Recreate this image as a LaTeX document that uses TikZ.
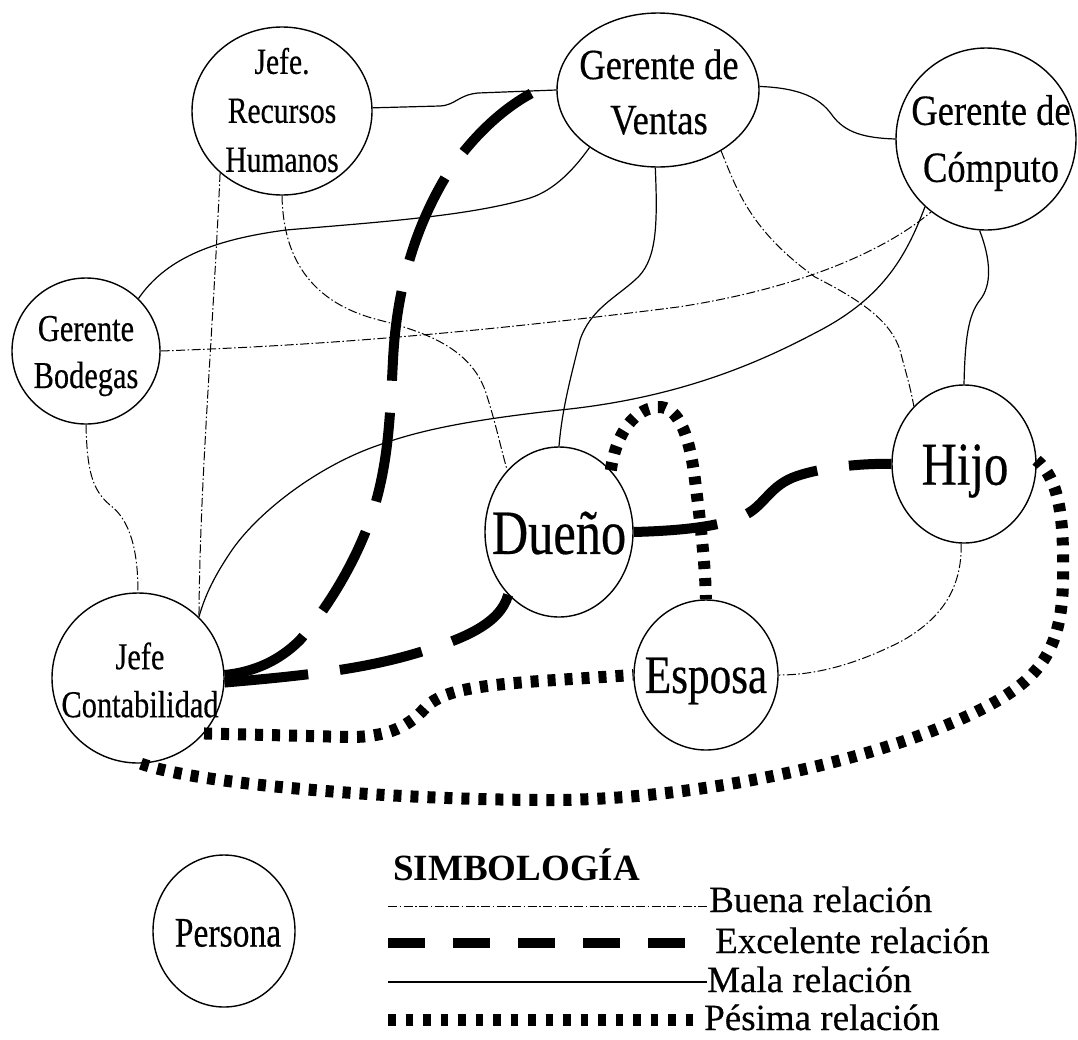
\documentclass[tikz,border=0pt]{standalone}
\usepackage{fontspec}
\setmainfont{Liberation Serif}
\newfontfamily\nodefont[FakeStretch=0.8, FakeBold=0.4]{Liberation Serif}
\newfontfamily\mgrfont[FakeStretch=0.85, FakeBold=0.4]{Liberation Serif}
\newfontfamily\legfont[FakeBold=0.4]{Liberation Serif}
\usetikzlibrary{shapes.geometric}
\begin{document}
\begin{tikzpicture}[x=1pt,y=-1pt,
  person/.style={ellipse, draw, line width=1.4pt, inner sep=0pt},
  ptext/.style={align=center, inner sep=0pt},
  legtext/.style={anchor=base west, inner sep=0pt, font=\legfont\fontsize{37}{44}\selectfont},
  mala/.style={line width=1.2pt},
  buena/.style={line width=1pt, dash pattern=on 9pt off 2.5pt on 1.5pt off 2.5pt},
  excelente/.style={line width=10pt, dash pattern=on 84pt off 32pt},
  pesima/.style={line width=12pt, dash pattern=on 8pt off 9pt},
]
\useasboundingbox (0,0) rectangle (1078,1039);

% people
\node[person, minimum width=180pt, minimum height=168pt] (jrh) at (282,111) {};
\node[ptext, font=\nodefont\fontsize{37}{49}\selectfont] (jrhT) at (282,110) {Jefe.\\Recursos\\Humanos};

\node[person, minimum width=202pt, minimum height=154pt] (gv) at (658,90) {};
\node[ptext, font=\mgrfont\fontsize{43}{55}\selectfont] (gvT) at (659,92) {Gerente de\\Ventas};

\node[person, minimum width=180pt, minimum height=182pt] (gc) at (986,139) {};
\node[ptext, font=\mgrfont\fontsize{43}{57}\selectfont] (gcT) at (991,143) {Gerente de\\Cómputo};

\node[person, minimum width=148pt, minimum height=146pt] (bod) at (86,351) {};
\node[ptext, font=\nodefont\fontsize{38}{47}\selectfont] (bodT) at (86,356) {Gerente\\Bodegas};

\node[person, minimum width=172pt, minimum height=170pt] (jc) at (138,678) {};
\node[ptext, font=\nodefont\fontsize{38}{48}\selectfont] (jcT) at (140,680) {Jefe\\Contabilidad};

\node[person, minimum width=148pt, minimum height=170pt] (due) at (559,532) {};
\node[ptext, font=\nodefont\fontsize{63}{70}\selectfont] (dueT) at (559,533) {Dueño};

\node[person, minimum width=144pt, minimum height=150pt] (esp) at (706,675) {};
\node[ptext, font=\nodefont\fontsize{54}{60}\selectfont] (espT) at (706,681) {Esposa};

\node[person, minimum width=144pt, minimum height=158pt] (hijo) at (964,464) {};
\node[ptext, font=\nodefont\fontsize{61}{68}\selectfont] (hijoT) at (965,471) {Hijo};

% mala relacion
\draw[mala] (jrh.2) -- (440,106) .. controls (456,105) and (458,95) .. (478,93) -- (gv.180);
\draw[mala] (gv.2) .. controls (800,88) and (820,98) .. (832,115) .. controls (845,133) and (865,138) .. (gc.180);
\draw[mala] (bod.45) .. controls (165,260) and (210,240) .. (286,230) .. controls (380,222) and (470,216) .. (530,198) .. controls (555,190) and (575,168) .. (gv.220);
\draw[mala] (gv.268) .. controls (658,230) and (656,262) .. (635,280) .. controls (615,298) and (590,310) .. (580,340) .. controls (570,380) and (562,410) .. (due.90);
\draw[mala] (gc.228) .. controls (905,260) and (880,300) .. (815,333) .. controls (760,362) and (680,398) .. (560,410) .. controls (470,420) and (420,430) .. (379,445) .. controls (320,465) and (260,510) .. (232,550) .. controls (215,575) and (205,595) .. (jc.45);
\draw[mala] (gc.266) .. controls (991,260) and (992,285) .. (980,300) .. controls (968,315) and (965,340) .. (hijo.90);

% buena relacion
\draw[buena] (jrh.225) .. controls (212,350) and (200,480) .. (jc.45);
\draw[buena] (jrh.270) .. controls (283,245) and (300,300) .. (379,320) .. controls (430,333) and (470,350) .. (485,390) .. controls (495,420) and (500,445) .. (due.130);
\draw[buena] (bod.0) .. controls (300,346) and (450,336) .. (678,307) .. controls (790,290) and (880,255) .. (gc.233);
\draw[buena] (gv.316) .. controls (737,190) and (750,230) .. (815,277) .. controls (860,300) and (890,320) .. (900,350) .. controls (905,370) and (910,385) .. (hijo.131);
\draw[buena] (hijo.268) .. controls (962,590) and (940,620) .. (900,642) .. controls (860,662) and (820,675) .. (esp.0);
\draw[buena] (bod.270) .. controls (87,470) and (92,490) .. (110,505) .. controls (130,520) and (138,550) .. (jc.90);

% excelente relacion
\coordinate (gvReach) at (532,93);
\draw[excelente, dash pattern=on 90pt off 32pt] (jc.2) .. controls (255,672) and (280,660) .. (300,640) .. controls (330,605) and (360,555) .. (375,505) .. controls (388,460) and (390,420) .. (393,360) .. controls (396,300) and (410,235) .. (448,173) .. controls (470,140) and (500,110) .. (gvReach);
\draw[excelente] (jc.357) .. controls (300,676) and (360,670) .. (417,653) .. controls (460,640) and (500,625) .. (due.231);
\draw[excelente] (due.0) .. controls (670,531) and (720,528) .. (745,515) .. controls (765,505) and (770,485) .. (797,476) .. controls (820,468) and (860,463) .. (hijo.180);

% pesima relacion
\draw[pesima] (due.50) .. controls (615,440) and (630,410) .. (657,407) .. controls (680,405) and (690,440) .. (695,480) .. controls (700,520) and (705,560) .. (esp.90);
\draw[pesima] (jc.320) -- (350,737) .. controls (390,737) and (410,725) .. (425,708) .. controls (440,692) and (470,686) .. (540,681) -- (esp.180);
\draw[pesima] (jc.272) .. controls (200,785) and (400,800) .. (550,800) .. controls (700,800) and (880,760) .. (980,710) .. controls (1040,680) and (1062,650) .. (1063,580) .. controls (1064,520) and (1060,480) .. (hijo.3);

% legend
\node[person, minimum width=142pt, minimum height=152pt] (per) at (224,931) {};
\node[ptext, font=\nodefont\fontsize{42}{48}\selectfont] (perT) at (228,933) {Persona};

\node[anchor=base west, inner sep=0pt, font=\bfseries\fontsize{37}{44}\selectfont] (simb) at (393,880) {SIMBOLOGÍA};

\node[legtext] (lbT) at (709,912) {Buena relación};
\node[legtext] (leT) at (715,953) {Excelente relación};
\node[legtext] (lmT) at (707,992) {Mala relación};
\node[legtext] (lpT) at (704,1030) {Pésima relación};

\coordinate (lb0) at (388,906);
\coordinate (le0) at (388,943);
\coordinate (le1) at (686,943);
\coordinate (lm0) at (388,982);
\coordinate (lp0) at (388,1020);
\coordinate (lp1) at (702,1020);
\draw[buena] (lb0) -- (lb0 -| lbT.west);
\draw[line width=10pt, dash pattern=on 37pt off 28pt] (le0) -- (le1);
\draw[mala] (lm0) -- (lm0 -| lmT.west);
\draw[line width=12pt, dash pattern=on 7.5pt off 10pt] (lp0) -- (lp1);
\end{tikzpicture}
\end{document}
